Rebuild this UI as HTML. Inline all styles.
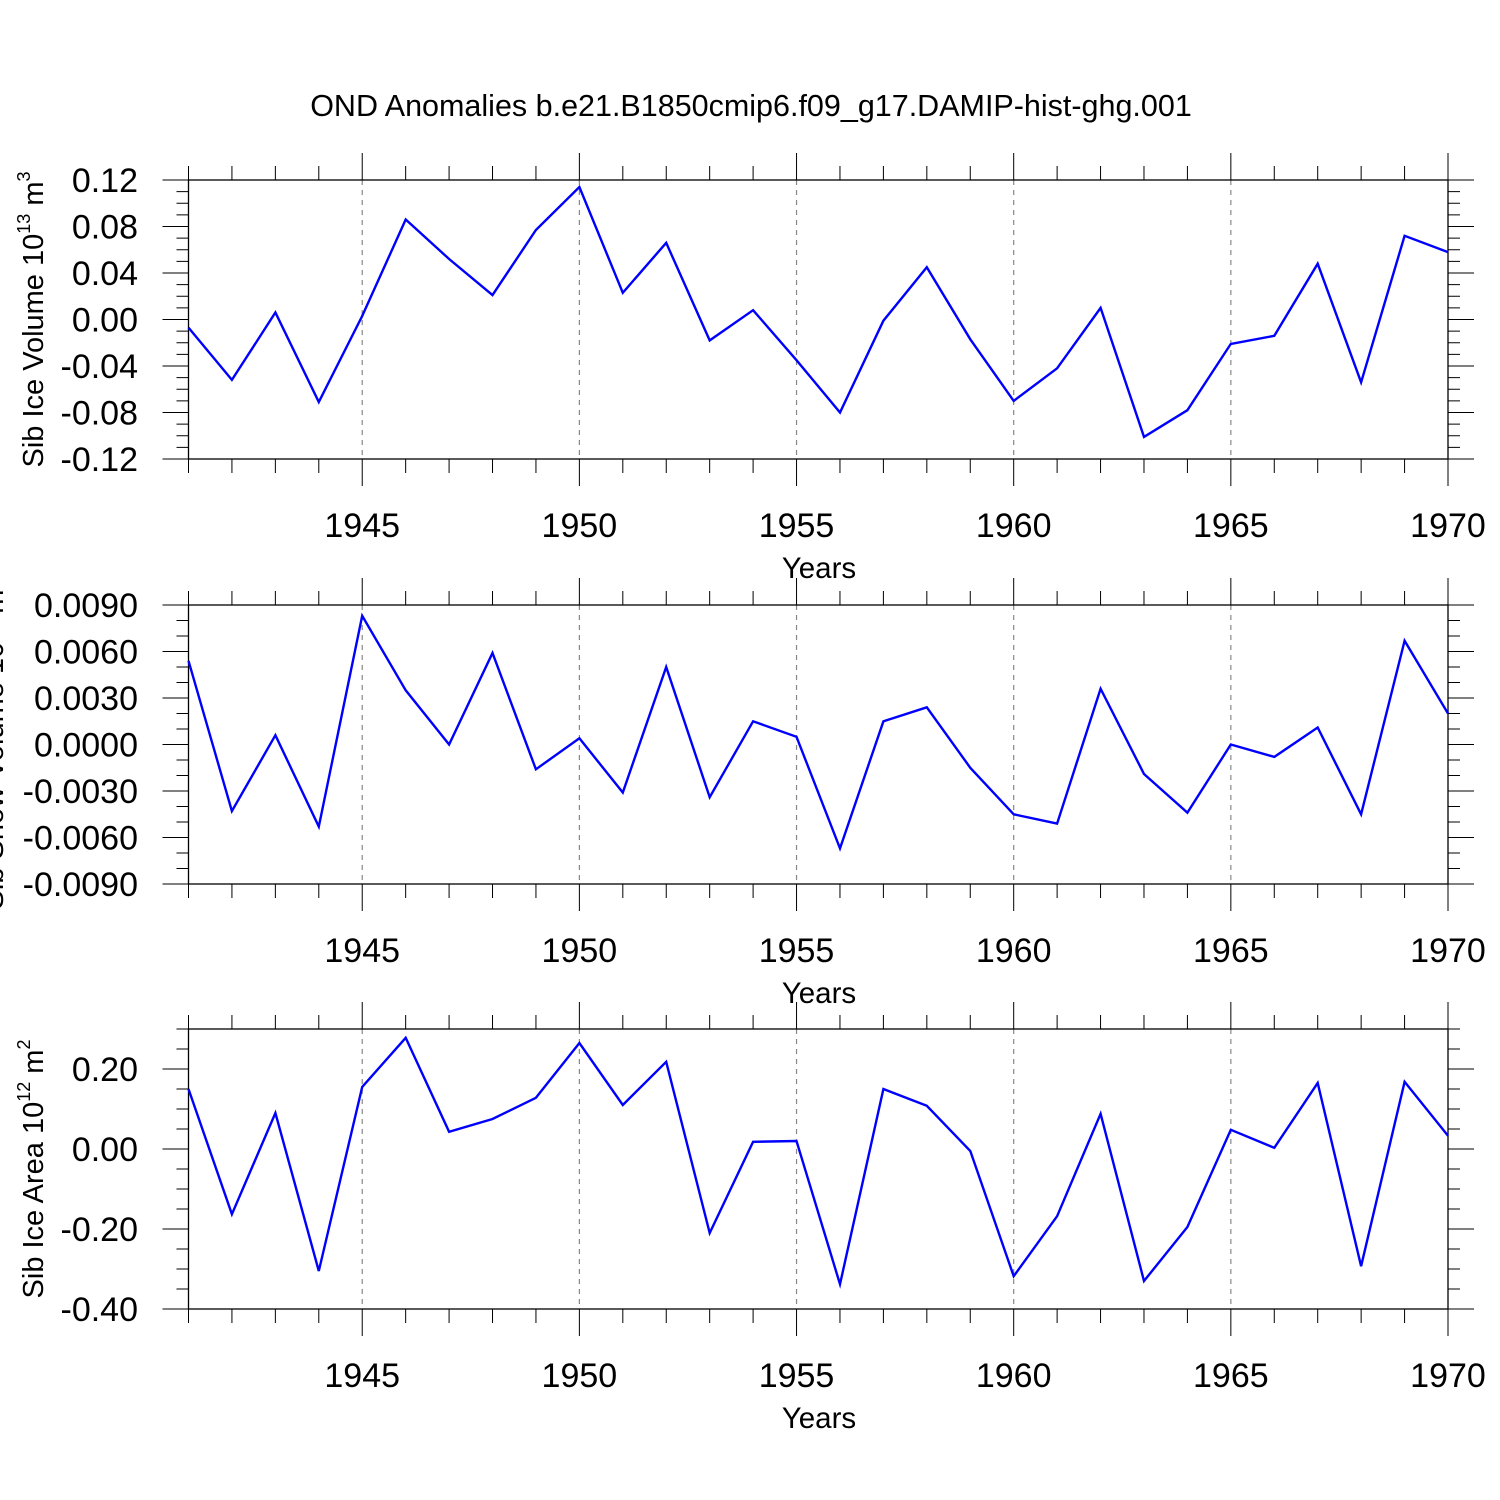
<!DOCTYPE html>
<html><head><meta charset="utf-8">
<style>
html,body{margin:0;padding:0;background:#fff;}
svg{display:block;font-family:"Liberation Sans",Helvetica,Arial,sans-serif;}
</style></head>
<body>
<svg id="chart" width="1500" height="1500" viewBox="0 0 1500 1500" xmlns="http://www.w3.org/2000/svg">
<rect width="1500" height="1500" fill="#fff"/>
<text x="751" y="116" font-size="30.5" text-anchor="middle">OND Anomalies b.e21.B1850cmip6.f09_g17.DAMIP-hist-ghg.001</text>
</svg>
<script>
const years = [1941,1942,1943,1944,1945,1946,1947,1948,1949,1950,1951,1952,1953,1954,1955,1956,1957,1958,1959,1960,1961,1962,1963,1964,1965,1966,1967,1968,1969,1970];
const iceVolume = [-0.007,-0.052,0.006,-0.071,0.003,0.086,0.052,0.021,0.077,0.114,0.023,0.066,-0.018,0.008,-0.035,-0.080,-0.001,0.045,-0.017,-0.070,-0.042,0.010,-0.101,-0.078,-0.021,-0.014,0.048,-0.054,0.072,0.058];
const snowVolume = [0.0054,-0.0043,0.0006,-0.0053,0.0083,0.0035,0.0000,0.0059,-0.0016,0.0004,-0.0031,0.0050,-0.0034,0.0015,0.0005,-0.0067,0.0015,0.0024,-0.0015,-0.0045,-0.0051,0.0036,-0.0019,-0.0044,0.0000,-0.0008,0.0011,-0.0045,0.0067,0.0020];
const iceArea = [0.15,-0.163,0.09,-0.305,0.155,0.278,0.043,0.075,0.128,0.265,0.11,0.218,-0.21,0.018,0.02,-0.338,0.15,0.108,-0.005,-0.318,-0.168,0.088,-0.33,-0.195,0.048,0.003,0.165,-0.293,0.168,0.033];
const xTickYears = [1945,1950,1955,1960,1965,1970];
const volTicks = ["0.12","0.08","0.04","0.00","-0.04","-0.08","-0.12"];
const snowTicks = ["0.0090","0.0060","0.0030","0.0000","-0.0030","-0.0060","-0.0090"];
const areaTicks = ["0.20","0.00","-0.20","-0.40"];

const NS="http://www.w3.org/2000/svg";
const svg=document.getElementById('chart');
const X0=188.5,X1=1448;
function xs(y){return X0+(y-1941)*(X1-X0)/(1970-1941);}
function mk(tag,attrs,parent){const e=document.createElementNS(NS,tag);for(const k in attrs)e.setAttribute(k,attrs[k]);(parent||svg).appendChild(e);return e;}

const panels=[
 {name:'ice-volume',top:180,bot:459,ymin:-0.12,ymax:0.12,minor:0.01,ticks:volTicks,data:iceVolume,label:['Sib Ice Volume 10','13',' m','3'],labelX:43},
 {name:'snow-volume',top:605,bot:884,ymin:-0.009,ymax:0.009,minor:0.001,ticks:snowTicks,data:snowVolume,label:['Sib Snow Volume 10','13',' m','3'],labelX:3},
 {name:'ice-area',top:1029,bot:1309,ymin:-0.40,ymax:0.30,minor:0.05,ticks:areaTicks,data:iceArea,label:['Sib Ice Area 10','12',' m','2'],labelX:43}
];
panels.forEach(p=>{
 const g=mk('g',{});
 
 
 const ys=v=>p.bot-(v-p.ymin)*(p.bot-p.top)/(p.ymax-p.ymin);
 xTickYears.forEach(yr=>{ if(yr<1970){const l=mk('line',{x1:xs(yr),x2:xs(yr),y1:p.top,y2:p.bot,stroke:'#888','stroke-width':1.2,'stroke-dasharray':'5,5'},g);
  }});
 const fr=mk('rect',{x:X0,y:p.top,width:X1-X0,height:p.bot-p.top,fill:'none',stroke:'#000','stroke-width':1.3},g);
 
 years.forEach(yr=>{const maj=(yr%5===0);const L=maj?27:14;const x=xs(yr);
  mk('line',{x1:x,x2:x,y1:p.top,y2:p.top-L,stroke:'#000','stroke-width':1},g);
  mk('line',{x1:x,x2:x,y1:p.bot,y2:p.bot+L,stroke:'#000','stroke-width':1},g);});
 const n=Math.round((p.ymax-p.ymin)/p.minor);
 const majStep=(p.ymax-p.ymin)/ (p.name==='ice-area'?3.5:6);
 for(let i=0;i<=n;i++){const v=p.ymin+i*p.minor;const y=ys(v);
  let maj;
  if(p.name==='ice-area'){maj=Math.abs(Math.round(v/0.2)*0.2-v)<1e-6;}else{maj=Math.abs(Math.round((v-p.ymin)/majStep)*majStep-(v-p.ymin))<1e-9;}
  const L=maj?26:12;
  mk('line',{x1:X0,x2:X0-L,y1:y,y2:y,stroke:'#000','stroke-width':1},g);
  mk('line',{x1:X1,x2:X1+L,y1:y,y2:y,stroke:'#000','stroke-width':1},g);}
 p.ticks.forEach(t=>{const y=ys(parseFloat(t));const tx=mk('text',{x:138,y:y+12,'font-size':34,'text-anchor':'end'},g);tx.textContent=t;
  });
 xTickYears.forEach(yr=>{const tx=mk('text',{x:xs(yr),y:p.bot+78,'font-size':34,'text-anchor':'middle'},g);tx.textContent=yr;
  });
 const xt=mk('text',{x:819,y:p.bot+119,'font-size':29.5,'text-anchor':'middle'},g);xt.textContent='Years';
 
 const cy=(p.top+p.bot)/2;
 const yt=mk('text',{x:0,y:0,'font-size':29,'text-anchor':'middle',transform:`translate(${p.labelX},${cy}) rotate(-90)`},g);
 
 const parts=p.label;
 const s1=mk('tspan',{},yt);s1.textContent=parts[0];
 const s2=mk('tspan',{dy:-13,'font-size':18},yt);s2.textContent=parts[1];
 const s3=mk('tspan',{dy:13},yt);s3.textContent=parts[2];
 const s4=mk('tspan',{dy:-13,'font-size':18},yt);s4.textContent=parts[3];
 const pts=p.data.map((v,i)=>xs(years[i]).toFixed(1)+','+ys(v).toFixed(1)).join(' ');
 const pl=mk('polyline',{points:pts,fill:'none',stroke:'#0000ff','stroke-width':2.4,'stroke-linejoin':'miter'},g);
 
 
});
</script>
</body></html>
